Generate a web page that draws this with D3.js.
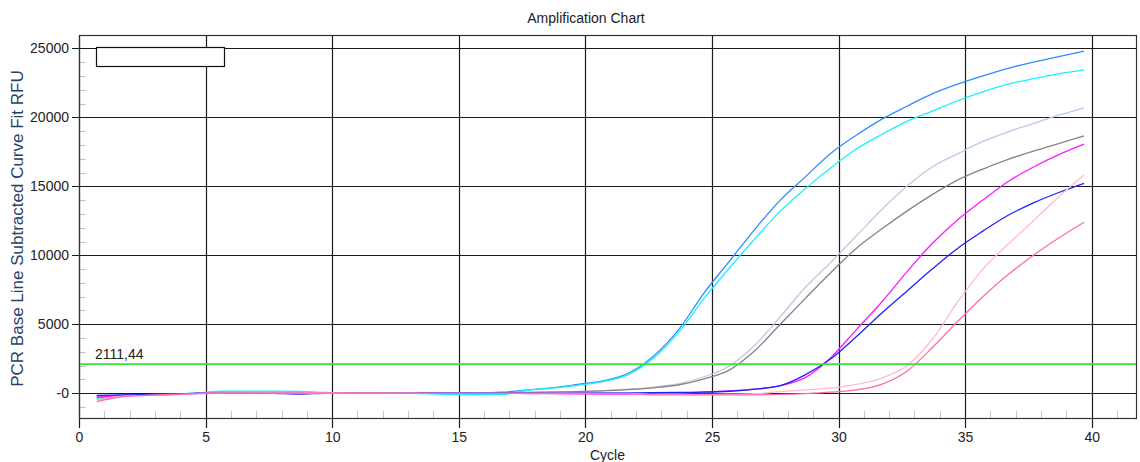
<html>
<head>
<meta charset="utf-8">
<title>Amplification Chart</title>
<style>
  body {margin: 0; background: #fff;}
  svg {display: block; font-family: "Liberation Sans", Arial, sans-serif;}
</style>
</head>
<body>
<svg></svg>
<script src="https://d3js.org/d3.v7.min.js"></script>
<script>
// cycle positions of the fitted points
const cycles = [0.7, 1.7, 2.7, 3.7, 4.7, 5.7, 6.7, 7.7, 8.7, 9.7,
  10.7, 11.7, 12.7, 13.7, 14.7, 15.7, 16.7, 17.7, 18.7, 19.7,
  20.7, 21.7, 22.7, 23.7, 24.7, 25.7, 26.7, 27.7, 28.7, 29.7,
  30.7, 31.7, 32.7, 33.7, 34.7, 35.7, 36.7, 37.7, 38.7, 39.7];

// RFU per curve
const wellDodger = [-350, -150, -120, -80, 20, 60, 60, 60, 50, 40,
  30, 30, 20, 20, 20, 30, 80, 250, 400, 640,
  900, 1450, 2700, 4650, 7300, 9600, 11900, 14000, 15700, 17400,
  18700, 19850, 20800, 21700, 22400, 23000, 23550, 24000, 24400, 24800];
const wellCyan = [-450, -200, -120, -80, 30, 150, 150, 150, 140, 60,
  40, 20, 0, -20, -100, -100, -80, 220, 380, 580,
  850, 1350, 2550, 4450, 6900, 9100, 11200, 13200, 14850, 16350,
  17700, 18750, 19700, 20450, 21200, 21850, 22400, 22800, 23150, 23430];
const wellSteel = [-250, -150, -120, -80, 0, 50, 60, 60, 50, 40,
  30, 30, 30, 30, 30, 40, 50, 70, 100, 130,
  200, 300, 450, 700, 1200, 2000, 3500, 5550, 7700, 9500,
  11400, 13300, 15000, 16400, 17350, 18250, 18950, 19550, 20150, 20690];
const wellGray = [-200, -150, -100, -60, 0, 30, 40, 40, 40, 30,
  30, 20, 20, 20, 20, 30, 40, 60, 80, 120,
  180, 260, 400, 620, 1050, 1700, 3100, 5000, 6900, 8750,
  10500, 11900, 13200, 14400, 15450, 16250, 16950, 17550, 18100, 18650];
const wellMagenta = [-300, -150, -120, -80, 0, 30, 30, 30, 30, 30,
  20, 20, 20, 10, 10, 0, 0, -20, -30, -40,
  -50, -50, -40, 20, 100, 180, 300, 550, 1150, 2600,
  4600, 6600, 8800, 10850, 12560, 14000, 15350, 16400, 17300, 18060];
const wellBlue = [-150, -120, -100, -60, 0, 20, 20, 0, -60, 0,
  10, 10, 10, 10, 10, 10, 10, 10, 10, 20,
  20, 30, 40, 60, 80, 150, 300, 550, 1350, 2500,
  4100, 5800, 7400, 9000, 10500, 11750, 12900, 13800, 14550, 15220];
const wellLightPink = [-500, -200, -150, -100, -20, 30, 30, 30, 20, 20,
  10, 10, 10, 0, 0, 0, 0, 0, 0, 0,
  0, 0, -80, -80, -80, -60, -30, 120, 250, 380,
  650, 1100, 2000, 3900, 6600, 9000, 10800, 12500, 14250, 15820];
const wellHotPink = [-600, -250, -150, -100, -20, 20, 20, 20, 20, 10,
  10, 10, 0, 0, 0, 0, 0, 0, 0, -10,
  -20, -30, -120, -120, -120, -120, -100, -80, -20, 80,
  250, 650, 1600, 3300, 5200, 7000, 8600, 10000, 11250, 12390];

const curves = [wellDodger, wellCyan, wellSteel, wellGray, wellMagenta, wellBlue, wellLightPink, wellHotPink];
const curveColors = ["#2f8cff", "#19f0ff", "#b8cce6", "#858585", "#ff1aff", "#1f1fff", "#ffbcc8", "#ff6cb0"];

const xTicks = [0, 5, 10, 15, 20, 25, 30, 35, 40];
const yTicks = [0, 5000, 10000, 15000, 20000, 25000];
const threshold = 2111.44;
const thresholdLabel = "2111,44";

const width = 1140, height = 462;
const plotLeft = 79, plotRight = 1136, plotTop = 35, plotBottom = 418;

const svg = d3.select("svg").attr("width", width).attr("height", height);

const x = d3.scaleLinear().domain([0, 41.75]).range([plotLeft, plotRight]);
const y = d3.scaleLinear().domain([-1790, 25964]).range([plotBottom, plotTop]);

// minor ticks (grey, inside)
const minorX = d3.range(1, 42).filter(d => d % 5 !== 0);
svg.append("g").selectAll("line").data(minorX).join("line")
  .attr("x1", d => Math.round(x(d)) + 0.5).attr("x2", d => Math.round(x(d)) + 0.5)
  .attr("y1", plotBottom).attr("y2", plotBottom - 7)
  .attr("stroke", "#c4c4c4").attr("stroke-width", 1);
const minorY = d3.range(-1000, 26000, 1000).filter(d => d % 5000 !== 0);
svg.append("g").selectAll("line").data(minorY).join("line")
  .attr("x1", plotLeft).attr("x2", plotLeft + 7)
  .attr("y1", d => Math.round(y(d)) + 0.5).attr("y2", d => Math.round(y(d)) + 0.5)
  .attr("stroke", "#c4c4c4").attr("stroke-width", 1);

// grid
svg.append("g").selectAll("line").data(yTicks).join("line")
  .attr("x1", plotLeft - 7).attr("x2", plotRight)
  .attr("y1", d => Math.round(y(d)) + 0.5).attr("y2", d => Math.round(y(d)) + 0.5)
  .attr("stroke", "#1c1c1c").attr("stroke-width", 1.2);
svg.append("g").selectAll("line").data(xTicks).join("line")
  .attr("x1", d => Math.round(x(d)) + 0.5).attr("x2", d => Math.round(x(d)) + 0.5)
  .attr("y1", plotTop).attr("y2", plotBottom + 10)
  .attr("stroke", "#1c1c1c").attr("stroke-width", 1.2);

// frame
svg.append("rect")
  .attr("x", plotLeft + 0.5).attr("y", plotTop + 0.5)
  .attr("width", plotRight - plotLeft).attr("height", plotBottom - plotTop)
  .attr("fill", "none").attr("stroke", "#333").attr("stroke-width", 1.2);

// axis labels
const yAxis = d3.axisLeft(y).tickValues(yTicks).tickSize(0).tickPadding(10)
  .tickFormat(d => d === 0 ? "-0" : d);
svg.append("g").attr("transform", `translate(${plotLeft},0)`).call(yAxis)
  .call(g => g.select(".domain").remove())
  .selectAll("text").attr("font-size", 14).attr("fill", "#222")
  .attr("font-family", "Liberation Sans, Arial, sans-serif");

const xAxis = d3.axisBottom(x).tickValues(xTicks).tickSize(0).tickPadding(14);
svg.append("g").attr("transform", `translate(0,${plotBottom})`).call(xAxis)
  .call(g => g.select(".domain").remove())
  .selectAll("text").attr("font-size", 14).attr("fill", "#222")
  .attr("font-family", "Liberation Sans, Arial, sans-serif");

// curves
const line = d3.line()
  .x((d, i) => x(cycles[i]))
  .y(d => y(d))
  .curve(d3.curveMonotoneX);

svg.append("g").selectAll("path").data(curves).join("path")
  .attr("d", line)
  .attr("fill", "none")
  .attr("stroke", (d, i) => curveColors[i])
  .attr("stroke-width", 1.3);

// threshold
svg.append("line")
  .attr("x1", plotLeft + 1).attr("x2", plotRight)
  .attr("y1", y(threshold)).attr("y2", y(threshold))
  .attr("stroke", "#3be23b").attr("stroke-width", 1.6);
svg.append("text")
  .attr("x", 95).attr("y", y(threshold) - 5)
  .attr("font-size", 14).attr("fill", "#222")
  .text(thresholdLabel);

// empty legend box
svg.append("rect")
  .attr("x", 96.5).attr("y", 47.5).attr("width", 128).attr("height", 19)
  .attr("fill", "#fff").attr("stroke", "#111").attr("stroke-width", 1.2);

// titles
svg.append("text")
  .attr("x", 586).attr("y", 23).attr("text-anchor", "middle")
  .attr("font-size", 14).attr("fill", "#222")
  .text("Amplification Chart");
svg.append("text")
  .attr("x", (plotLeft + plotRight) / 2).attr("y", 460).attr("text-anchor", "middle")
  .attr("font-size", 14).attr("fill", "#222")
  .text("Cycle");
svg.append("text")
  .attr("transform", `translate(23,${(plotTop + plotBottom) / 2 + 2}) rotate(-90)`)
  .attr("text-anchor", "middle")
  .attr("font-size", 17).attr("fill", "#2b3f66")
  .text("PCR Base Line Subtracted Curve Fit RFU");
</script>
</body>
</html>
